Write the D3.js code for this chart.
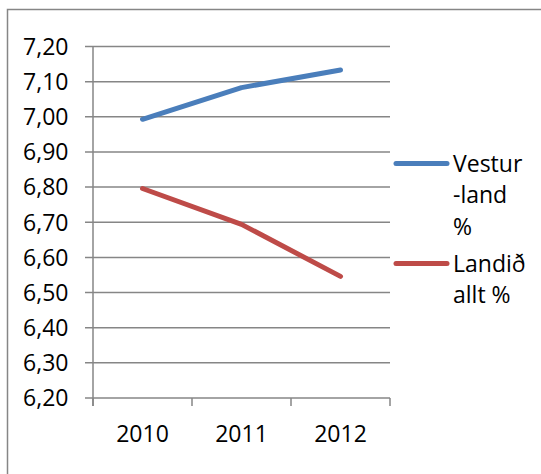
<!DOCTYPE html>
<html>
<head>
<meta charset="utf-8">
<script src="https://cdn.jsdelivr.net/npm/d3@7"></script>
<style>
  body { margin: 0; background: #fff; }
  text { font-family: "Open Sans", "Liberation Sans", sans-serif; fill: #000; }
</style>
</head>
<body>
<div id="container"></div>
<script>
const years = ['2010', '2011', '2012'];
const vesturland = [6.993, 7.083, 7.133];
const landid = [6.796, 6.694, 6.546];
const yTicks = [6.2, 6.3, 6.4, 6.5, 6.6, 6.7, 6.8, 6.9, 7.0, 7.1, 7.2];
const seriesNames = [['Vestur', '-land', '%'], ['Landið', 'allt %']];
const seriesColors = ['#4a7ebb', '#be4b48'];

const W = 541, H = 474;
const plot = { left: 93, right: 390, top: 46.5, bottom: 398 };

const svg = d3.select('#container')
    .append('svg')
    .attr('width', W)
    .attr('height', H);

// outer chart frame (runs off the right and bottom edges)
svg.append('rect')
    .attr('x', 7.5).attr('y', 9.5)
    .attr('width', 600).attr('height', 600)
    .attr('fill', 'none')
    .attr('stroke', '#868686')
    .attr('stroke-width', 1.5);

const x = d3.scaleBand()
    .domain(years)
    .range([plot.left, plot.right]);

const y = d3.scaleLinear()
    .domain([6.2, 7.2])
    .range([plot.bottom, plot.top]);

const fmt = d => d3.format('.2f')(d).replace('.', ',');

// gridlines
svg.append('g')
    .selectAll('line')
    .data(yTicks)
    .join('line')
    .attr('x1', plot.left - 8)
    .attr('x2', plot.right)
    .attr('y1', d => y(d))
    .attr('y2', d => y(d))
    .attr('stroke', '#868686')
    .attr('stroke-width', 1.5);

// y axis line
svg.append('line')
    .attr('x1', plot.left).attr('x2', plot.left)
    .attr('y1', plot.top).attr('y2', plot.bottom + 8)
    .attr('stroke', '#868686')
    .attr('stroke-width', 1.5);

// y labels
svg.append('g')
    .selectAll('text')
    .data(yTicks)
    .join('text')
    .attr('x', 68.5)
    .attr('y', d => y(d))
    .attr('dy', '0.36em')
    .attr('text-anchor', 'end')
    .attr('font-size', 23)
    .text(fmt);

// x tick marks at category boundaries
const bounds = years.map(d => x(d)).concat([plot.right]);
svg.append('g')
    .selectAll('line')
    .data(bounds)
    .join('line')
    .attr('x1', d => d).attr('x2', d => d)
    .attr('y1', plot.bottom).attr('y2', plot.bottom + 8)
    .attr('stroke', '#868686')
    .attr('stroke-width', 1.5);

// x labels
svg.append('g')
    .selectAll('text')
    .data(years)
    .join('text')
    .attr('x', d => x(d) + x.bandwidth() / 2)
    .attr('y', 441.5)
    .attr('text-anchor', 'middle')
    .attr('font-size', 23)
    .text(d => d);

// series lines
const line = d3.line()
    .x((d, i) => x(years[i]) + x.bandwidth() / 2)
    .y(d => y(d));

[vesturland, landid].forEach((s, i) => {
    svg.append('path')
        .datum(s)
        .attr('d', line)
        .attr('fill', 'none')
        .attr('stroke', seriesColors[i])
        .attr('stroke-width', 5)
        .attr('stroke-linecap', 'round')
        .attr('stroke-linejoin', 'round');
});

// legend
const legendY = [163.5, 263.5];
seriesNames.forEach((lines, i) => {
    const g = svg.append('g');
    g.append('line')
        .attr('x1', 396).attr('x2', 447)
        .attr('y1', legendY[i]).attr('y2', legendY[i])
        .attr('stroke', seriesColors[i])
        .attr('stroke-width', 5)
        .attr('stroke-linecap', 'round');
    g.append('text')
        .attr('x', 453)
        .attr('y', legendY[i] + 8)
        .attr('font-size', 23)
        .selectAll('tspan')
        .data(lines)
        .join('tspan')
        .attr('x', 453)
        .attr('dy', (d, j) => j === 0 ? 0 : 31.7)
        .text(d => d);
});
</script>
</body>
</html>
